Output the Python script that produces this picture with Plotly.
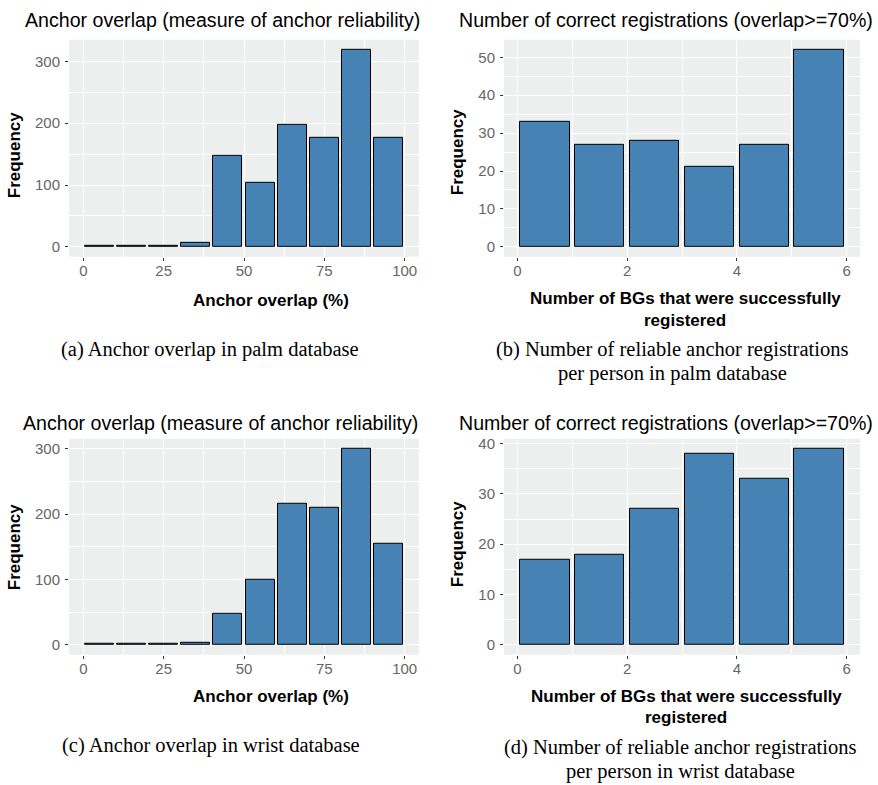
import plotly.graph_objects as go

# ---- data ----
overlap_bins = [5, 15, 25, 35, 45, 55, 65, 75, 85, 95]          # bin centres (%), width 10
palm_overlap_freq = [1, 1, 2, 6, 147, 104, 198, 176, 319, 176]
wrist_overlap_freq = [1, 1, 1, 3, 47, 100, 216, 210, 300, 155]

bg_bins = [0.5, 1.5, 2.5, 3.5, 4.5, 5.5]                          # bin centres, width 1
palm_bg_freq = [33, 27, 28, 21, 27, 52]
wrist_bg_freq = [17, 18, 27, 38, 33, 39]

W, H = 878, 785
SANS = "Liberation Sans, Arial, sans-serif"
SERIF = "Liberation Serif, Times New Roman, serif"
PANEL_BG = "#EDEFEE"
FILL = "#4682B4"


def px_x(p):
    return p / W


def px_y(p):
    return 1 - p / H


fig = go.Figure()

# panel boxes in pixels: (left, right, top, bottom)
panels = {
    "1": (69, 419, 36, 254),
    "2": (504, 860, 36, 254),
    "3": (69, 419, 437, 654),
    "4": (504, 860, 437, 654),
}

series = [
    ("1", overlap_bins, palm_overlap_freq, 9),
    ("2", bg_bins, palm_bg_freq, 0.9),
    ("3", overlap_bins, wrist_overlap_freq, 9),
    ("4", bg_bins, wrist_bg_freq, 0.9),
]

for key, xs, ys, width in series:
    suffix = "" if key == "1" else key
    fig.add_trace(go.Bar(
        x=xs, y=ys, width=width,
        marker=dict(color=FILL, line=dict(color="black", width=1)),
        xaxis="x" + suffix, yaxis="y" + suffix,
        showlegend=False, hoverinfo="x+y",
    ))


def expand(lo, hi, frac=0.05):
    span = hi - lo
    return [lo - frac * span, hi + frac * span]


axis_common = dict(
    showline=False, zeroline=False,
    ticks="outside", ticklen=3, tickwidth=1, tickcolor="#333333",
    tickfont=dict(family=SANS, size=15, color="#666666"),
    showgrid=True, gridcolor="white", gridwidth=1.1,
    fixedrange=True,
)

layout = dict(
    width=W, height=H,
    margin=dict(l=0, r=0, t=0, b=0),
    paper_bgcolor="white", plot_bgcolor=PANEL_BG,
    bargap=0, showlegend=False,
)

for key, xs, ys, width in series:
    l, r, t, b = panels[key]
    suffix = "" if key == "1" else key
    xa = "xaxis" + suffix
    ya = "yaxis" + suffix
    xr = expand(xs[0] - width / 2, xs[-1] + width / 2)
    if width == 9:
        xticks = [0, 25, 50, 75, 100]
        xminor = 12.5
        ydt = 100
        yminor = 50
    else:
        xticks = [0, 2, 4, 6]
        xminor = 1
        ydt = 10
        yminor = 5
    yr = expand(0, max(ys))
    layout[xa] = dict(
        axis_common, domain=[px_x(l), px_x(r)], range=xr,
        tickmode="array", tickvals=xticks,
        minor=dict(showgrid=True, gridcolor="white", gridwidth=0.55,
                   tick0=0, dtick=xminor, ticks=""),
        anchor="y" + suffix, ticklabelstandoff=-3,
    )
    layout[ya] = dict(
        axis_common, domain=[px_y(b), px_y(t)], range=yr,
        tick0=0, dtick=ydt,
        minor=dict(showgrid=True, gridcolor="white", gridwidth=0.55,
                   tick0=0, dtick=yminor, ticks=""),
        anchor="x" + suffix, ticklabelstandoff=2,
    )

fig.update_layout(**layout)


def note(text, x, y, size, family=SANS, color="black", angle=0, bold=False):
    if bold:
        text = "<b>" + text + "</b>"
    fig.add_annotation(
        text=text, x=px_x(x), y=px_y(y), xref="paper", yref="paper",
        xanchor="center", yanchor="middle", showarrow=False,
        textangle=angle, font=dict(family=family, size=size, color=color),
    )


title_a = "Anchor overlap (measure of anchor reliability)"
title_b = "Number of correct registrations (overlap>=70%)"
xlab_a = "Anchor overlap (%)"
xlab_b1 = "Number of BGs that were successfully"
xlab_b2 = "registered"
ylab = "Frequency"

# plot titles
note(title_a, 222, 16, 19.6)
note(title_b, 666, 16, 19.6)
note(title_a, 220, 421, 19.6)
note(title_b, 666, 421, 19.6)

# axis titles
note(xlab_a, 271, 298, 17, bold=True)
note(xlab_b1, 685, 296, 17, bold=True)
note(xlab_b2, 685, 318, 17, bold=True)
note(xlab_a, 271, 696, 17, bold=True)
note(xlab_b1, 686, 696, 17, bold=True)
note(xlab_b2, 686, 717, 17, bold=True)
note(ylab, 14, 152, 17, angle=-90, bold=True)
note(ylab, 457, 149, 17, angle=-90, bold=True)
note(ylab, 14, 546, 17, angle=-90, bold=True)
note(ylab, 457, 543, 17, angle=-90, bold=True)

# sub-figure captions
CAP = 20.5
note("(a) Anchor overlap in palm database", 210, 347, CAP, family=SERIF)
note("(b) Number of reliable anchor registrations", 672, 347, CAP, family=SERIF)
note("per person in palm database", 672, 371, CAP, family=SERIF)
note("(c) Anchor overlap in wrist database", 211, 745, CAP, family=SERIF)
note("(d) Number of reliable anchor registrations", 680, 747, CAP, family=SERIF)
note("per person in wrist database", 680, 771, CAP, family=SERIF)

fig.write_html("out.html")
